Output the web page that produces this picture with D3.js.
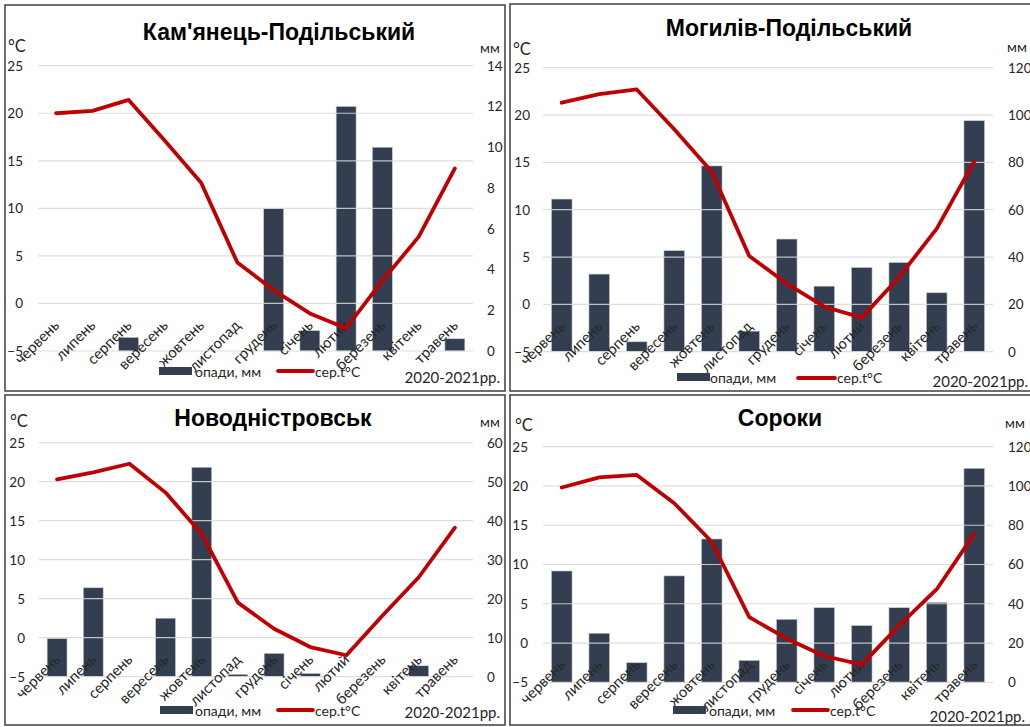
<!DOCTYPE html>
<html>
<head>
<meta charset="utf-8">
<script src="https://cdn.jsdelivr.net/npm/d3@7"></script>
<style>
  html, body { margin: 0; padding: 0; background: #fff; }
  svg { display: block; }
  text { font-family: Lato, "Open Sans", sans-serif; fill: #262626; }
  .title { font-family: "Liberation Sans", Arial, sans-serif; font-weight: bold; fill: #000; }
</style>
</head>
<body>
<svg id="chart" width="1030" height="727"></svg>
<script>
// ---------- DATA ----------
const months = ["червень","липень","серпень","вересень","жовтень","листопад","грудень","січень","лютий","березень","квітень","травень"];
const stations = ["Кам'янець-Подільський","Могилів-Подільський","Новодністровськ","Сороки"];
const tempTicks = [-5, 0, 5, 10, 15, 20, 25];
const seriesNames = ["опади, мм", "сер.t°C"];
const period = "2020-2021рр.";

const tempKam = [20.0, 20.25, 21.4, 17.1, 12.7, 4.3, 1.4, -1.05, -2.6, 2.4, 7.0, 14.2];
const precKam = [0, 0, 0.67, 0, 0, 0, 7.0, 1.0, 12.0, 10.0, 0, 0.6];
const precTicksKam = [0, 2, 4, 6, 8, 10, 12, 14];

const tempMog = [21.3, 22.2, 22.7, 18.5, 14.0, 5.1, 2.2, -0.25, -1.4, 2.9, 8.0, 15.1];
const precMog = [64.5, 32.8, 4.2, 42.7, 78.5, 8.7, 47.6, 27.7, 35.6, 37.7, 24.9, 97.6];
const precTicksMog = [0, 20, 40, 60, 80, 100, 120];

const tempNov = [20.3, 21.2, 22.3, 18.6, 13.3, 4.5, 1.15, -1.2, -2.25, 2.85, 7.75, 14.1];
const precNov = [9.8, 22.8, 0, 15.0, 53.7, 0.6, 6.0, 0.85, 0, 0, 2.8, 0];
const precTicksNov = [0, 10, 20, 30, 40, 50, 60];

const tempSor = [19.8, 21.1, 21.4, 17.8, 12.9, 3.3, 0.55, -1.65, -2.75, 2.25, 6.85, 13.9];
const precSor = [56.7, 25.0, 10.0, 54.2, 73.0, 11.2, 32.1, 38.0, 28.9, 38.0, 40.7, 109.0];
const precTicksSor = [0, 20, 40, 60, 80, 100, 120];

// ---------- LAYOUT ----------
const layout = [
  { box:[5,5,505,391], x0:38, x1:473, yTop:65.7, yBot:351, title:[279,40], degC:[8,52], mm:[480,53], lx:23, rx:487,
    legRect:[159,367], legText1:195, legLine:[278,313,371], legText2:315, legY:377, period:[500,383] },
  { box:[510,4,1036,391], x0:543, x1:993, yTop:67.7, yBot:351.7, title:[789,36], degC:[513,55], mm:[1007,52], lx:530, rx:1008,
    legRect:[677,373], legText1:710, legLine:[798,835,378], legText2:837, legY:383, period:[1028,387] },
  { box:[5,395,505,725], x0:39, x1:473, yTop:442.7, yBot:676.7, title:[273,426], degC:[10,427], mm:[480,427], lx:25, rx:487,
    legRect:[160,706], legText1:195, legLine:[278,313,710], legText2:315, legY:716, period:[500,718] },
  { box:[510,395,1036,725], x0:543, x1:993, yTop:446.7, yBot:682.3, title:[780,426], degC:[515,431], mm:[1005,428], lx:528, rx:1008,
    legRect:[673,706], legText1:709, legLine:[793,828,710], legText2:830, legY:716, period:[1025,722] }
];

const panels = [
  { name: stations[0], temp: tempKam, prec: precKam, pticks: precTicksKam },
  { name: stations[1], temp: tempMog, prec: precMog, pticks: precTicksMog },
  { name: stations[2], temp: tempNov, prec: precNov, pticks: precTicksNov },
  { name: stations[3], temp: tempSor, prec: precSor, pticks: precTicksSor }
];

const BAR = "#333f50", LINE = "#c00000", GRID = "#d9d9d9";
const svg = d3.select("#chart");

panels.forEach((p, i) => {
  const L = layout[i];
  const g = svg.append("g");

  // border
  g.append("rect")
    .attr("x", L.box[0]).attr("y", L.box[1])
    .attr("width", L.box[2] - L.box[0]).attr("height", L.box[3] - L.box[1])
    .attr("fill", "#fff").attr("stroke", "#4a4a4a").attr("stroke-width", 1.6);

  const x = d3.scaleBand().domain(months).range([L.x0, L.x1]).paddingInner(0.45).paddingOuter(0.225);
  const xc = d => x(d) + x.bandwidth() / 2;
  const yT = d3.scaleLinear().domain([-5, 25]).range([L.yBot, L.yTop]);
  const pmax = d3.max(p.pticks);
  const yP = d3.scaleLinear().domain([0, pmax]).range([L.yBot, L.yTop]);

  // bars
  g.append("g").selectAll("rect").data(months).join("rect")
    .attr("x", d => x(d))
    .attr("width", x.bandwidth())
    .attr("y", (d, j) => yP(p.prec[j]))
    .attr("height", (d, j) => L.yBot - yP(p.prec[j]))
    .attr("fill", BAR)
    .attr("stroke", "#c9ced6").attr("stroke-width", 0.6);

  // grid (drawn over bars, faint)
  g.append("g").selectAll("line").data(tempTicks).join("line")
    .attr("x1", L.x0).attr("x2", L.x1)
    .attr("y1", d => yT(d)).attr("y2", d => yT(d))
    .attr("stroke", GRID).attr("stroke-width", 1.2).attr("opacity", 0.85);

  // left axis
  const leftAx = d3.axisLeft(yT).tickValues(tempTicks).tickSize(0).tickPadding(0);
  const la = g.append("g").attr("transform", `translate(${L.lx},0)`).call(leftAx);
  la.select(".domain").remove();
  la.selectAll("text").attr("font-size", 13.5).attr("fill", "#404040").attr("font-family", "Lato, sans-serif");

  // right axis
  const rightAx = d3.axisRight(yP).tickValues(p.pticks).tickSize(0).tickPadding(0);
  const ra = g.append("g").attr("transform", `translate(${L.rx},0)`).call(rightAx);
  ra.select(".domain").remove();
  ra.selectAll("text").attr("font-size", 13.5).attr("fill", "#404040").attr("font-family", "Lato, sans-serif");

  // category labels at 0 line, rotated
  const y0 = yT(0);
  g.append("g").selectAll("text").data(months).join("text")
    .attr("transform", d => `translate(${xc(d) + 4},${y0 + 23}) rotate(-45)`)
    .attr("text-anchor", "end")
    .attr("font-size", 15)
    .attr("fill", "#333")
    .text(d => d);

  // temperature line
  const line = d3.line().x((d, j) => xc(months[j])).y(d => yT(d));
  g.append("path").datum(p.temp)
    .attr("d", line)
    .attr("fill", "none").attr("stroke", LINE).attr("stroke-width", 3.8)
    .attr("stroke-linejoin", "round").attr("stroke-linecap", "round");

  // title
  g.append("text").attr("class", "title")
    .attr("x", L.title[0]).attr("y", L.title[1])
    .attr("text-anchor", "middle").attr("font-size", 23)
    .text(p.name);

  // unit labels
  g.append("text").attr("x", L.degC[0]).attr("y", L.degC[1]).attr("font-size", 16.5).attr("fill", "#262626").text("°C");
  g.append("text").attr("x", L.mm[0]).attr("y", L.mm[1]).attr("font-size", 14).attr("fill", "#262626").text("мм");

  // legend
  g.append("rect").attr("x", L.legRect[0]).attr("y", L.legRect[1]).attr("width", 33).attr("height", 8).attr("fill", BAR);
  g.append("text").attr("x", L.legText1).attr("y", L.legY).attr("font-size", 14).attr("fill", "#404040").text(seriesNames[0]);
  g.append("line").attr("x1", L.legLine[0]).attr("x2", L.legLine[1]).attr("y1", L.legLine[2]).attr("y2", L.legLine[2])
    .attr("stroke", LINE).attr("stroke-width", 3.8).attr("stroke-linecap", "round");
  g.append("text").attr("x", L.legText2).attr("y", L.legY).attr("font-size", 14).attr("fill", "#404040").text(seriesNames[1]);

  // period
  g.append("text").attr("x", L.period[0]).attr("y", L.period[1]).attr("text-anchor", "end")
    .attr("font-size", 15).attr("fill", "#262626").text(period);
});
</script>
</body>
</html>
